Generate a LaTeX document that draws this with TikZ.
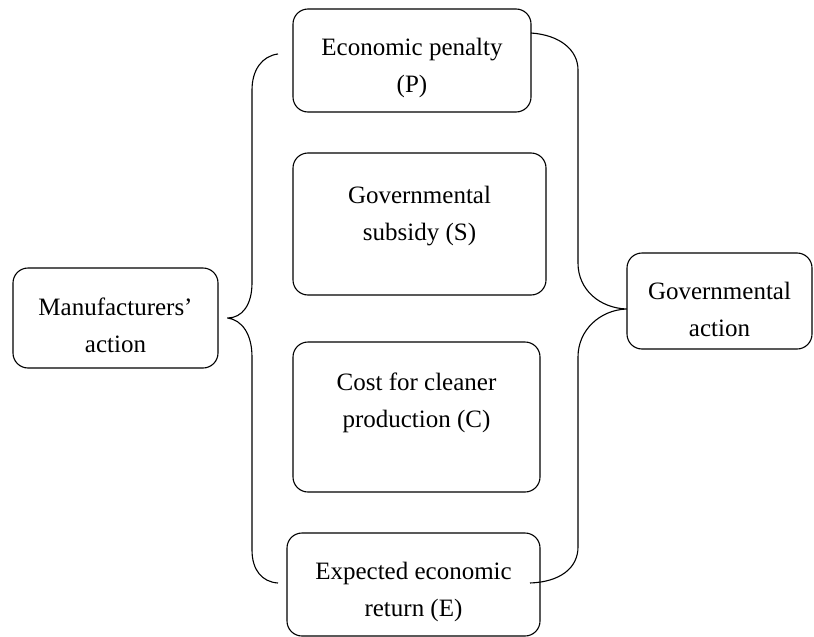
\documentclass[tikz,border=0pt]{standalone}
\usepackage{fontspec}
\setmainfont{Liberation Serif}

\begin{document}
\begin{tikzpicture}[x=1pt, y=-1pt, line width=1.1pt, font=\fontsize{25}{37}\selectfont]
        % Styles
        \tikzstyle{box} = [draw, rectangle, rounded corners=15pt]
        \tikzstyle{txt} = [align=center, inner sep=0pt]
        \tikzstyle{brace} = [draw, line join=round]

        \useasboundingbox (0,0) rectangle (814,637);

        % Colonne centrale : les quatre facteurs
        \node [box, minimum width=238, minimum height=103] (pen) at (412,60.5) {};
        \node [box, minimum width=253, minimum height=142] (sub) at (419.5,224) {};
        \node [box, minimum width=247, minimum height=150] (cost) at (416.5,417) {};
        \node [box, minimum width=253, minimum height=103] (ret) at (413.5,584.5) {};

        \node [txt] (penT) at (412,67.7) {Economic penalty\\(P)};
        \node [txt] (subT) at (419.5,215.7) {Governmental\\subsidy (S)};
        \node [txt] (costT) at (416.5,403.2) {Cost for cleaner\\production (C)};
        \node [txt] (retT) at (413.5,592.2) {Expected economic\\return (E)};

        % Acteurs
        \node [box, minimum width=205, minimum height=100] (man) at (115.5,318) {};
        \node [txt] (manT) at (115.5,325) {Manufacturers’\\action};
        \node [box, minimum width=185, minimum height=96] (gov) at (719.5,301) {};
        \node [txt] (govT) at (719.5,309) {Governmental\\action};

        % Extrémités des accolades
        \coordinate (lTop) at (278,54);
        \coordinate (lBot) at (278,583);
        \coordinate (lTip) at ([xshift=9pt]man.east);
        \coordinate (rTop) at (531,33);
        \coordinate (rBot) at (530,583);
        \coordinate (rTip) at ([yshift=-8pt]gov.west);

        % Accolade gauche
        \draw [brace] (lTop) .. controls (262,56) and (252,70) .. (252,90)
            -- (252,283) .. controls (252,305) and (242,318) .. (lTip)
            .. controls (242,320) and (252,334) .. (252,357)
            -- (252,550) .. controls (252,570) and (262,582) .. (lBot);

        % Accolade droite
        \draw [brace] (rTop) .. controls (560,35) and (578,50) .. (578,70)
            -- (578,263) .. controls (578,290) and (600,308) .. (rTip)
            .. controls (600,310) and (578,330) .. (578,357)
            -- (578,547) .. controls (578,568) and (560,582) .. (rBot);

    \end{tikzpicture}
\end{document}
